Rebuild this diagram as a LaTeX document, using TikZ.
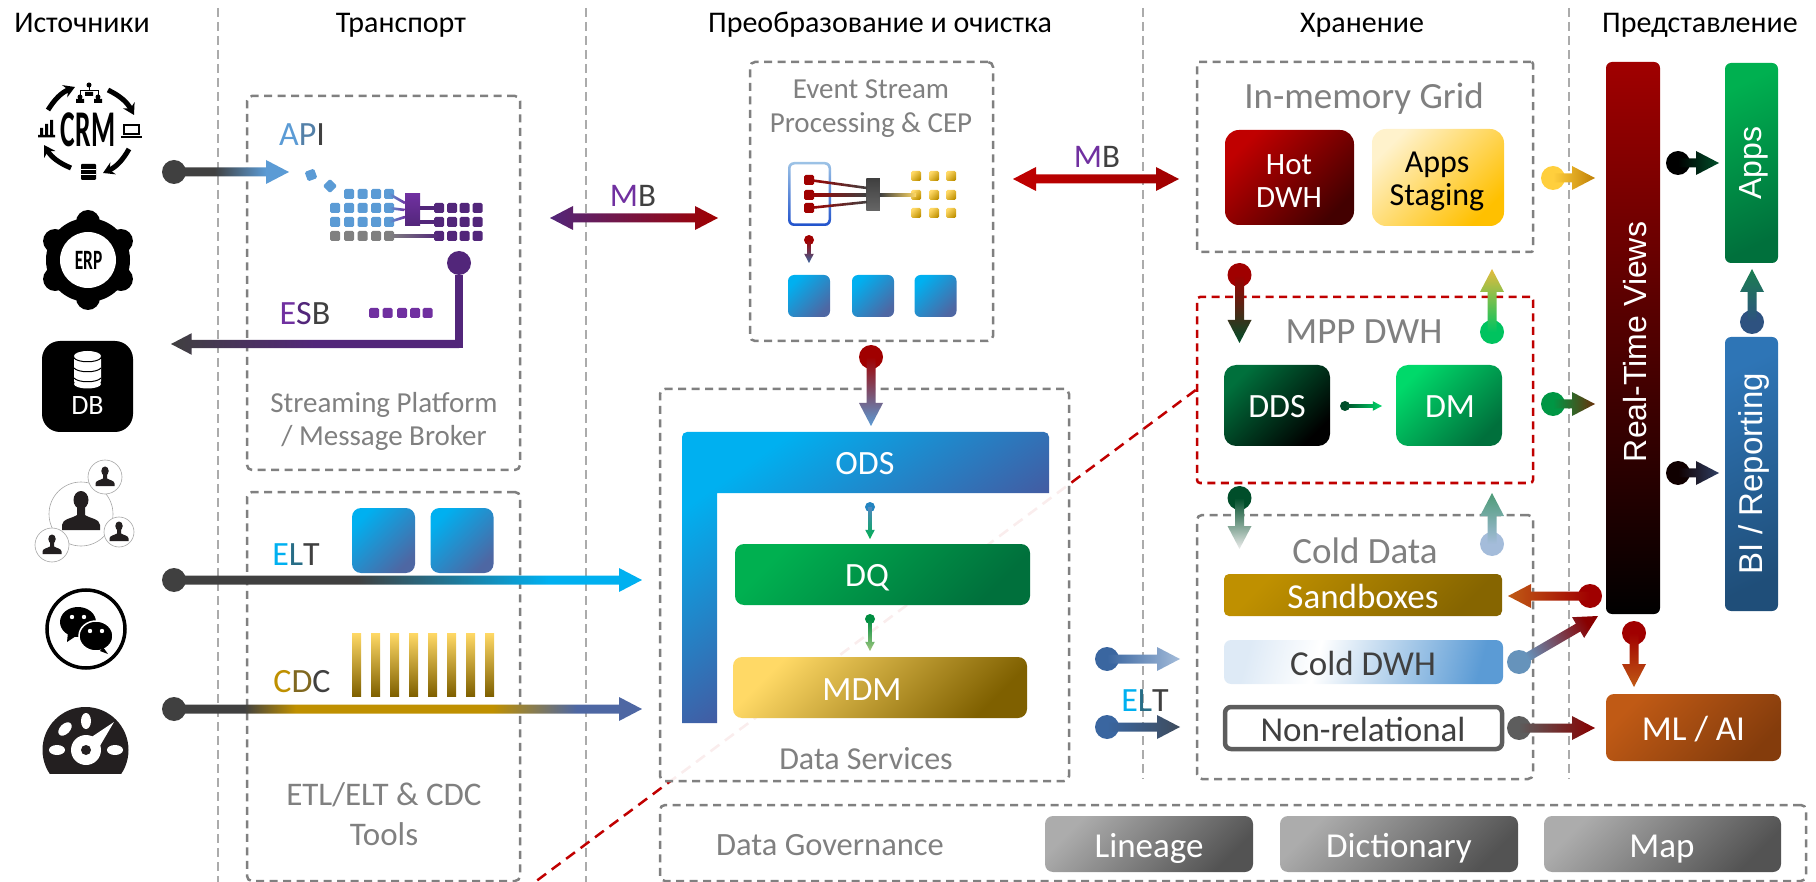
\documentclass[tikz,border=0pt]{standalone}
\usepackage{fontspec}
\usepackage{xcolor}
\usetikzlibrary{arrows.meta,calc}
\setmainfont{Carlito}
\newfontfamily\fontRot{Liberation Sans}
\definecolor{GrisF}{HTML}{404040}
\definecolor{GrisT}{HTML}{808080}
\definecolor{GrisS}{HTML}{ABABAB}
\definecolor{GrisI}{HTML}{231F20}
\definecolor{Violet}{HTML}{52267A}
\definecolor{VioletC}{HTML}{7030A0}
\definecolor{OdsFin}{HTML}{6E2570}
\definecolor{Rouge}{HTML}{A00000}
\definecolor{RougeV}{HTML}{C00000}
\definecolor{Ciel}{HTML}{00B0F0}
\definecolor{BleuN}{HTML}{4E67A3}
\definecolor{BleuC}{HTML}{5B9BD5}
\definecolor{BleuM}{HTML}{3A66A0}
\definecolor{BleuP}{HTML}{A4BCDA}
\definecolor{BleuI}{HTML}{2E75B6}
\definecolor{BleuJ}{HTML}{1F4E79}
\definecolor{BleuL}{HTML}{DEEAF6}
\definecolor{Or}{HTML}{BF9000}
\definecolor{OrC}{HTML}{FFD966}
\definecolor{OrF}{HTML}{7F6000}
\definecolor{OrJ}{HTML}{FFC000}
\definecolor{Creme}{HTML}{FFF2CC}
\definecolor{VertC}{HTML}{00B050}
\definecolor{VertF}{HTML}{00703C}
\definecolor{VertD}{HTML}{00D96A}
\definecolor{Brun}{HTML}{C05A15}
\definecolor{BrunF}{HTML}{843C0C}
\pgfdeclarehorizontalshading{ApiDegrade}{100bp}{color(0bp)=(GrisF); color(42.5bp)=(GrisF); color(65bp)=(BleuC); color(100bp)=(BleuC)}
\pgfdeclarehorizontalshading{EltDegrade}{100bp}{color(0bp)=(GrisF); color(44.5bp)=(GrisF); color(65bp)=(Ciel); color(100bp)=(Ciel)}
\pgfdeclarehorizontalshading{CdcDegrade}{100bp}{color(0bp)=(GrisF); color(32.5bp)=(GrisF); color(38bp)=(Or); color(59bp)=(Or); color(68bp)=(BleuN); color(100bp)=(BleuN)}
\pgfdeclarehorizontalshading{ColdDegrade}{100bp}{color(0bp)=(BleuL); color(25bp)=(BleuL); color(40bp)=(white); color(75bp)=(BleuC); color(100bp)=(BleuC)}
\newcommand{\GradFleche}[6][]{%
 \shade[left color=#4,right color=#5,shading angle=#6,Taille=1,#1]
 ($(#2)!\FlTaille*4.5pt!90:(#3)$) --
 ($(#3)!\FlTaille*23pt!(#2)!\FlTaille*4.5pt!90:(#3)$) --
 ($(#3)!\FlTaille*23pt!(#2)!\FlTaille*12pt!90:(#3)$) -- (#3) --
 ($(#3)!\FlTaille*23pt!(#2)!\FlTaille*12pt!-90:(#3)$) --
 ($(#3)!\FlTaille*23pt!(#2)!\FlTaille*4.5pt!-90:(#3)$) --
 ($(#2)!\FlTaille*4.5pt!-90:(#3)$) -- cycle;}
\newcommand{\GradDoubleFleche}[4]{%
 \shade[left color=#3,right color=#4]
 (#1) -- ($(#1)!23pt!(#2)!12pt!90:(#2)$) -- ($(#1)!23pt!(#2)!4.5pt!90:(#2)$) --
 ($(#2)!23pt!(#1)!4.5pt!-90:(#1)$) -- ($(#2)!23pt!(#1)!12pt!-90:(#1)$) -- (#2) --
 ($(#2)!23pt!(#1)!12pt!90:(#1)$) -- ($(#2)!23pt!(#1)!4.5pt!90:(#1)$) --
 ($(#1)!23pt!(#2)!4.5pt!-90:(#2)$) -- ($(#1)!23pt!(#2)!12pt!-90:(#2)$) -- cycle;}
\newcommand{\GradTrait}[4]{%
 \shade[left color=#3,right color=#4]
 ($(#1)!1.3pt!90:(#2)$) -- ($(#2)!1.3pt!-90:(#1)$) -- ($(#2)!1.3pt!90:(#1)$) -- ($(#1)!1.3pt!-90:(#2)$) -- cycle;}
\tikzset{
Taille/.store in=\FlTaille,
Taille=1,
Separe/.style={
 draw=GrisS,
 line width=2pt,
 dash pattern=on 9pt off 5pt
 },
BoiteTiret/.style={
 rectangle,
 draw=GrisT,
 line width=2.5pt,
 dash pattern=on 8pt off 5.5pt,
 rounded corners=5pt,
 inner sep=0pt
 },
TiretRouge/.style={
 draw=RougeV,
 line width=2.5pt,
 dash pattern=on 11pt off 7pt
 },
Lab/.style={
 inner sep=0pt,
 font=\fontsize{#1}{#1}\selectfont,
 text height=#1*0.64pt,
 text depth=0pt
 },
LabM/.style={
 inner sep=0pt,
 align=center,
 font=\fontsize{#1}{33}\selectfont
 },
Gris/.style={Lab=#1,text=GrisT},
Rot/.style={
 inner sep=0pt,
 rotate=90,
 text=white,
 font=\fontRot\fontsize{#1}{#1}\selectfont
 },
Boite/.style={
 rectangle,
 inner sep=0pt,
 rounded corners=#1
 },
Degrade/.style 2 args={
 left color=#1,
 right color=#2,
 shading angle=45
 },
Carre/.style={
 rectangle,
 inner sep=0pt,
 minimum size=10pt,
 rounded corners=1.5pt,
 fill=#1
 },
Bout/.style={
 circle,
 inner sep=0pt,
 minimum size=24pt,
 fill=#1
 },
BoutP/.style={
 circle,
 inner sep=0pt,
 minimum size=10pt,
 fill=#1
 },
Personne/.pic={
 \fill[GrisI] (0,-12) ellipse [x radius=7.5,y radius=9];
 \fill[GrisI] (-4,-6) -- (-4,3) .. controls (-8,6) and (-19,7) .. (-19,13) -- (-19,18) -- (19,18) -- (19,13) .. controls (19,7) and (8,6) .. (4,3) -- (4,-6) -- cycle;
 }
}
\begin{document}
\begin{tikzpicture}[x=1pt,y=-1pt]
\useasboundingbox (0,0) rectangle (1816,882);
\foreach \x/\yb in {218/882,586/882,1143/779,1569/779}
 \draw[Separe] (\x,8) -- (\x,\yb);

\node[Lab=30] (tSource) at (82,23) {Источники};
\node[Lab=30] (tTransport) at (401,23) {Транспорт};
\node[Lab=30] (tTransfo) at (880,23) {Преобразование и очистка};
\node[Lab=30] (tStock) at (1362,23) {Хранение};
\node[Lab=30] (tVue) at (1700,23) {Представление};

\node[BoiteTiret,minimum width=273pt,minimum height=374pt] (stream) at (383.5,283) {};
\node[BoiteTiret,minimum width=273pt,minimum height=389pt] (etl) at (383.5,686.5) {};
\node[BoiteTiret,minimum width=243pt,minimum height=279pt] (esp) at (871.5,201.5) {};
\node[BoiteTiret,minimum width=336pt,minimum height=190pt,rounded corners=2pt] (mem) at (1365,157) {};
\node[BoiteTiret,draw=RougeV,minimum width=336pt,minimum height=186pt,rounded corners=3pt] (mpp) at (1365,390) {};
\node[BoiteTiret,minimum width=336pt,minimum height=264pt] (cold) at (1365,647) {};
\coordinate (rougeB) at (535,882);
\draw[TiretRouge] (mpp.west) -- (rougeB);
\node[BoiteTiret,fill=white,fill opacity=.93,minimum width=409pt,minimum height=392pt] (ds) at (864.5,585) {};
\node[BoiteTiret,minimum width=1146pt,minimum height=76pt] (gov) at (1233,843) {};

\begin{scope}[line width=5pt,black]
\draw[-{Stealth[length=11pt,width=13pt]}] (48,110) to[bend left=18] (75,87);
\draw[-{Stealth[length=11pt,width=13pt]}] (108,90) to[bend left=18] (134,115);
\draw[-{Stealth[length=11pt,width=13pt]}] (129,149) to[bend left=18] (103,173);
\draw[-{Stealth[length=11pt,width=13pt]}] (71,168) to[bend left=18] (44,145);
\end{scope}
\node[inner sep=0pt,xscale=.6,yscale=1.12,transform shape,font=\fontsize{46}{46}\selectfont\bfseries,text height=30pt,text depth=0pt] (crm) at (88,130) {CRM};
\fill[black] (38,135) rectangle (55,137.5) (40,128) rectangle (43,135) (45,124) rectangle (48,135) (50,120) rectangle (53,135);
\draw[black,line width=1.5pt] (124,125) rectangle (139,134);
\fill[black] (121,136) rectangle (142,138.5);
\fill[black,rounded corners=1pt] (81,164) rectangle (96,180);
\draw[white,line width=1pt] (81,169.5) -- (96,169.5) (81,175) -- (96,175);
\fill[black] (89,85) circle (2.5pt) (80,97) circle (2.5pt) (98,97) circle (2.5pt);
\draw[black,line width=1pt] (89,85) -- (89,91) (80,97) -- (80,91) -- (98,91) -- (98,97);
\fill[black] (76,99) rectangle (84,103) (85,92) rectangle (93,96) (94,99) rectangle (102,103);

\fill[black] (88,260) circle (42pt);
\foreach \a in {90,30,-30,-90,-150,150}
 \fill[black] ($(88,260)+(\a:38)$) circle (12pt);
\fill[white] (88,260) circle (28pt);
\node[inner sep=0pt,xscale=.62,transform shape,font=\fontsize{28}{28}\selectfont\bfseries,text height=18pt,text depth=0pt] (erp) at (88.5,261) {ERP};

\node[Boite=18pt,fill=black,minimum width=91pt,minimum height=91pt] (db) at (87.5,386.5) {};
\fill[white,rounded corners=3pt] (74,356) rectangle (101,384);
\fill[white] (87.5,356) ellipse [x radius=13.5,y radius=5] (87.5,384) ellipse [x radius=13.5,y radius=4.5];
\foreach \y in {358,368,378}
 \draw[black,line width=1pt] (74,\y) .. controls (78,\y+5) and (97,\y+5) .. (101,\y);
\node[Lab=28,text=white] (dbT) at (87.5,406) {DB};

\draw[gray!70,line width=.6pt] (81,514) circle (32pt);
\pic at (81,512) {Personne};
\foreach \x/\y/\r in {105/477/17,119/532/15,52/545/17}{
 \filldraw[fill=white,draw=gray!70,line width=.6pt] (\x,\y) circle (\r pt);
 \pic[scale=.5] at (\x,\y) {Personne};
}

\draw[black,line width=3.5pt] (86,629) circle (39pt);
\fill[black] (78,622) ellipse [x radius=18,y radius=15];
\fill[black] (68,632) -- (67,642) -- (76,636) -- cycle;
\filldraw[fill=black,draw=white,line width=1.5pt] (96,636) ellipse [x radius=17,y radius=15];
\fill[white] (72,617) circle (2.2pt) (84,617) circle (2.2pt) (90,631) circle (2.2pt) (102,631) circle (2.2pt);
\fill[black] (103,647) -- (108,654) -- (100,651) -- cycle;

\begin{scope}
\clip (40,700) rectangle (130,773);
\fill[GrisI] (85.5,750) circle (43pt);
\end{scope}
\fill[white] (57,750) ellipse [x radius=8,y radius=5] (86,721) ellipse [x radius=5,y radius=8];
\fill[white] (115,750) ellipse [x radius=8,y radius=5];
\fill[white,rotate around={45:(65,729)}] (65,729) ellipse [x radius=8,y radius=5];
\fill[white] (86,750) circle (15pt);
\fill[white] (81,744) -- (114,722) -- (94,756) -- cycle;
\fill[GrisI] (86,750) circle (5pt);

\node[Lab=34] (apiT) at (302,135) {\textcolor{BleuC}{A}\textcolor{BleuC!70!GrisF}{P}\textcolor{GrisF}{I}};
\node[Bout=GrisF] (apiS) at (174,172) {};
\coordinate (apiE) at (289,172);
\GradFleche[shading=ApiDegrade,shading angle=0]{apiS}{apiE}{GrisF}{BleuC}{90}
\node[Carre=BleuC,rotate=20] (apiA) at (311,175) {};
\node[Carre=BleuC,rotate=45] (apiB) at (330,186) {};
\foreach \c/\x in {2/349,3/362.5,4/376,5/389}
 \node[Carre=BleuC] (bl1\c) at (\x,194) {};
\foreach \r/\y in {2/208,3/222}
 \foreach \c/\x in {1/335,2/349,3/362.5,4/376,5/389}
  \node[Carre=BleuC] (bl\r\c) at (\x,\y) {};
\foreach \c/\x in {1/335,2/349,3/362.5,4/376,5/389}
 \node[Carre=GrisT] (bl4\c) at (\x,236) {};
\foreach \r/\y in {2/208,3/222,4/236}
 \foreach \c/\x in {1/439,2/452,3/464.5,4/477.5}
  \node[Carre=Violet] (vi\r\c) at (\x,\y) {};
\node[Boite=0pt,minimum width=15pt,minimum height=32pt,left color=VioletC,right color=Violet,shading angle=0] (pBox) at (412.5,210) {};
\coordinate (pIn) at (405,203);
\coordinate (pInB) at (405,217);
\GradTrait{bl15}{pIn}{BleuC}{VioletC}
\GradTrait{bl25}{pBox.west}{BleuC}{VioletC}
\GradTrait{bl35}{pInB}{BleuC}{VioletC}
\coordinate (pOut) at (420,208);
\coordinate (pOutB) at (420,222);
\GradTrait{pOut}{vi21}{Violet}{Violet}
\GradTrait{pOutB}{vi31}{Violet}{Violet}
\GradTrait{bl45}{vi41}{GrisT}{Violet}

\node[Lab=34] (esbT) at (305,314) {\textcolor{VioletC}{E}\textcolor{Violet}{S}\textcolor{GrisF}{B}};
\foreach \c/\x in {1/374,2/387.5,3/402,4/415,5/427.5}
 \node[Carre=VioletC] (es\c) at (\x,313) {};
\node[Bout=Violet] (esbS) at (459,263) {};
\coordinate (esbC) at (459,344);
\coordinate (esbE) at (171,344);
\draw[Violet,line width=8pt,line join=miter] (esbS) -- ($(esbC)+(0,4)$);
\GradFleche[Taille=.9,middle color=Violet]{esbC}{esbE}{Violet}{GrisF}{-90}
\node[Gris=29] (stT) at (384,403) {Streaming Platform};
\node[Gris=29] (stU) at (384,436) {/ Message Broker};

\node[Lab=34] (eltT) at (296,555) {\textcolor{Ciel}{E}\textcolor{Ciel!40!GrisF}{L}\textcolor{GrisF}{T}};
\node[Boite=9pt,Degrade={Ciel}{BleuN},minimum width=63pt,minimum height=65pt] (eltA) at (383.5,540.5) {};
\node[Boite=9pt,Degrade={Ciel}{BleuN},minimum width=63pt,minimum height=65pt] (eltB) at (462,540.5) {};
\node[Bout=GrisF] (eltS) at (174,580) {};
\coordinate (eltE) at (642,580);
\GradFleche[shading=EltDegrade,shading angle=0]{eltS}{eltE}{GrisF}{Ciel}{90}

\node[Lab=34] (cdcT) at (302,682) {\textcolor{Or}{C}\textcolor{Or!50!GrisF}{D}\textcolor{GrisF}{C}};
\foreach \i/\x in {1/356.5,2/375.5,3/394.5,4/413.5,5/432.5,6/451.5,7/470.5,8/489.5}
 \node[Boite=0pt,minimum width=9pt,minimum height=63pt,left color=OrC,right color=OrF,shading angle=0] (cdc\i) at (\x,664.5) {};
\node[Bout=GrisF] (cdcS) at (174,709) {};
\coordinate (cdcE) at (642,709);
\GradFleche[shading=CdcDegrade,shading angle=0]{cdcS}{cdcE}{GrisF}{BleuN}{90}
\node[Gris=33] (etT) at (384,795) {ETL/ELT \& CDC};
\node[Gris=33] (etU) at (384,835) {Tools};

\coordinate (mbA) at (550,218);
\coordinate (mbB) at (718,218);
\GradDoubleFleche{mbA}{mbB}{Violet}{Rouge}
\node[Lab=33] (mbT) at (633,196) {\textcolor{VioletC}{M}\textcolor{GrisF}{B}};
\coordinate (mbC) at (1013,179);
\coordinate (mbD) at (1179,179);
\GradDoubleFleche{mbC}{mbD}{RougeV}{Rouge}
\node[Lab=33] (mbU) at (1097,157) {\textcolor{VioletC}{M}\textcolor{GrisF}{B}};

\node[Gris=29] (evT) at (871,89) {Event Stream};
\node[Gris=29] (evU) at (871,123) {Processing \& CEP};
\node[Boite=6pt,left color=BleuC!60!white,right color=BleuI!70!blue,shading angle=0,minimum width=43pt,minimum height=64pt] (evO) at (809.5,194) {};
\node[Boite=4pt,fill=white,minimum width=38pt,minimum height=59pt] (evI) at (809.5,194) {};
\node[Boite=0pt,left color=GrisF,right color=GrisF!80!white,shading angle=0,minimum width=13.5pt,minimum height=32pt] (evM) at (873,195) {};
\coordinate (evMa) at (867,188);
\coordinate (evMb) at (867,202);
\foreach \c/\x in {1/916,2/934,3/951}
 \foreach \r/\y in {1/176,2/195,3/213}
  \node[Boite=1.5pt,Degrade={OrC}{Or},minimum size=10pt] (jn\r\c) at (\x,\y) {};
\foreach \r/\y in {1/180,2/195,3/208}
 \node[Carre=Rouge] (ro\r) at (809,\y) {};
\GradTrait{ro1}{evMa}{Rouge}{GrisF}
\GradTrait{ro2}{evM.west}{Rouge}{GrisF}
\GradTrait{ro3}{evMb}{Rouge}{GrisF}
\GradTrait{evM.east}{jn21}{GrisF}{OrC}
\node[BoutP=Rouge] (evS) at (809,240) {};
\coordinate (evE) at (809,263);
\GradFleche[Taille=.4]{evS}{evE}{Rouge}{BleuM}{0}
\node[Boite=6pt,Degrade={Ciel}{BleuN},minimum width=42pt,minimum height=42pt] (evA) at (809,296) {};
\node[Boite=6pt,Degrade={Ciel}{BleuN},minimum width=42pt,minimum height=42pt] (evB) at (873,296) {};
\node[Boite=6pt,Degrade={Ciel}{BleuN},minimum width=42pt,minimum height=42pt] (evC) at (935.5,296) {};

\node[Bout=Rouge] (espS) at (871,357) {};
\coordinate (espE) at (871,426);
\GradFleche{espS}{espE}{Rouge}{BleuC}{0}

\shade[left color=Ciel,middle color=Ciel!80!BleuN,right color=OdsFin,shading angle=35,rounded corners=5pt] (682,723) -- (682,432) -- (1049,432) [sharp corners] -- (1049,493) -- (717,493) -- (717,723) -- cycle;
\node[Lab=34,text=white] (odsT) at (865,464) {ODS};
\node[Boite=9pt,Degrade={VertC}{VertF},minimum width=295pt,minimum height=61pt] (dq) at (882.5,574.5) {};
\node[Lab=34,text=white] (dqT) at (867,576) {DQ};
\node[Boite=9pt,Degrade={OrC}{OrF},minimum width=294pt,minimum height=61pt] (mdm) at (880,687.5) {};
\node[Lab=34,text=white] (mdmT) at (862,690) {MDM};
\node[BoutP=BleuM!60!Ciel] (odsS) at (870,507) {};
\coordinate (odsE) at (870,539);
\GradFleche[Taille=.4]{odsS}{odsE}{BleuC!60!BleuM}{VertC}{0}
\node[BoutP=VertC!80!black] (dqS) at (870,619) {};
\coordinate (dqE) at (870,651);
\GradFleche[Taille=.4]{dqS}{dqE}{VertC!80!black}{Or!50!VertC!60!white}{0}
\node[Gris=32] (dsT) at (866,759) {Data Services};

\node[Bout=BleuM] (inA) at (1107,659) {};
\coordinate (inAe) at (1180,659);
\GradFleche{inA}{inAe}{BleuM}{BleuP}{90}
\node[Bout=BleuM] (inB) at (1107,727) {};
\coordinate (inBe) at (1180,727);
\GradFleche{inB}{inBe}{BleuM}{GrisF!70!BleuM}{90}
\node[Lab=34] (eltU) at (1145,701) {\textcolor{Ciel}{E}\textcolor{Ciel!40!GrisF}{L}\textcolor{GrisF}{T}};

\node[Gris=37] (memT) at (1364,97) {In-memory Grid};
\node[Boite=14pt,left color=RougeV,middle color=RougeV!92!black,right color=RougeV!35!black,shading angle=45,minimum width=129pt,minimum height=95pt] (hot) at (1289.5,177.5) {};
\node[LabM=31,text=white] (hotT) at (1289,181) {Hot\\DWH};
\node[Boite=14pt,left color=Creme,middle color=OrJ!55!Creme,right color=OrJ,shading angle=45,minimum width=132pt,minimum height=97pt] (stag) at (1438,177.5) {};
\node[LabM=32] (stagT) at (1437,181) {Apps\\Staging};

\node[Gris=37] (mppT) at (1364,332) {MPP DWH};
\node[Boite=12pt,Degrade={VertF}{black},minimum width=106pt,minimum height=81pt] (dds) at (1277,405.5) {};
\node[Lab=34,text=white] (ddsT) at (1277,407) {DDS};
\node[Boite=12pt,Degrade={VertD}{VertF},minimum width=106pt,minimum height=81pt] (dm) at (1449,405.5) {};
\node[Lab=34,text=white] (dmT) at (1450,407) {DM};
\node[BoutP=VertF!70!black] (ddS) at (1345,406) {};
\coordinate (ddE) at (1382,406);
\GradFleche[Taille=.4]{ddS}{ddE}{VertF!70!black}{VertD}{90}

\node[Bout=Rouge] (hotS) at (1239.5,275) {};
\coordinate (hotE) at (1239.5,343);
\GradFleche{hotS}{hotE}{Rouge}{VertF!70!black}{0}
\node[Bout=VertD!90!black] (dmS) at (1492,332) {};
\coordinate (dmE) at (1492,269);
\GradFleche{dmS}{dmE}{VertD!90!black}{OrC!60!Or}{180}
\node[Bout=VertF!70!black] (mppS) at (1239.5,498) {};
\coordinate (mppE) at (1239.5,549);
\GradFleche{mppS}{mppE}{VertF!70!black}{gray!15}{0}
\node[Bout=BleuP] (colS) at (1492,544) {};
\coordinate (colE) at (1492,493);
\GradFleche{colS}{colE}{BleuP}{VertF!70!white}{180}

\node[Gris=37] (colT) at (1365,552) {Cold Data};
\node[Boite=5pt,Degrade={Or}{Or!70!black},minimum width=278pt,minimum height=42pt] (sand) at (1363,595) {};
\node[Lab=35,text=white] (sandT) at (1363,597) {Sandboxes};
\node[Boite=7pt,shading=ColdDegrade,shading angle=-15,minimum width=279pt,minimum height=44pt] (coldw) at (1363.5,662) {};
\node[Lab=35,text=GrisF] (coldT) at (1363,664) {Cold DWH};
\node[Boite=6pt,draw=GrisF!85!white,fill=white,line width=4.5pt,minimum width=277pt,minimum height=42pt] (nrel) at (1363.5,728) {};
\node[Lab=35,text=GrisF] (nrelT) at (1363,730) {Non-relational};

\node[Boite=6pt,left color=Rouge,right color=black,shading angle=0,minimum width=54pt,minimum height=552pt] (rt) at (1633,338) {};
\node[Rot=32] (rtT) at (1635,342) {Real-Time Views};
\node[Boite=6pt,left color=VertC,right color=VertF,shading angle=25,minimum width=53pt,minimum height=200pt] (apps) at (1751.5,163) {};
\node[Rot=32] (appsT) at (1754,163) {Apps};
\node[Boite=6pt,left color=BleuI,right color=BleuJ,shading angle=25,minimum width=53pt,minimum height=274pt] (bi) at (1751.5,474) {};
\node[Rot=33] (biT) at (1754,474) {BI / Reporting};
\node[Boite=8pt,Degrade={Brun}{BrunF},minimum width=175pt,minimum height=67pt] (ml) at (1693.5,727.5) {};
\node[Lab=35,text=white] (mlT) at (1693.5,729) {ML / AI};

\node[Bout=OrC!60!OrJ] (stS) at (1553,178) {};
\coordinate (stE) at (1595,178);
\GradFleche{stS}{stE}{OrC!60!OrJ}{Or!70!Brun}{90}
\node[Bout=VertC!85!black] (gdS) at (1553,404) {};
\coordinate (gdE) at (1595,404);
\GradFleche{gdS}{gdE}{VertC!85!black}{BrunF!80!black}{90}
\node[Bout=black] (apS) at (1678,163) {};
\coordinate (apE) at (1719,163);
\GradFleche{apS}{apE}{black}{VertF!70!black}{90}
\node[Bout=black!90!Rouge] (biS) at (1678,473) {};
\coordinate (biE) at (1719,473);
\GradFleche{biS}{biE}{black!90!Rouge}{BleuN!60!black}{90}
\node[Bout=BleuM!80!black] (bapS) at (1752,322) {};
\coordinate (bapE) at (1752,269);
\GradFleche{bapS}{bapE}{BleuM!80!black}{VertF!90!white}{180}
\node[Bout=Rouge] (sbS) at (1590,596) {};
\coordinate (sbE) at (1508,596);
\GradFleche{sbS}{sbE}{Rouge}{Brun}{-90}
\node[Bout=BleuC!70!gray] (cdS) at (1519,662) {};
\coordinate (cdE) at (1598,616);
\GradFleche{cdS}{cdE}{BleuC!70!gray}{Rouge!85!black}{120}
\node[Bout=GrisF!85!white] (nrS) at (1519,728) {};
\coordinate (nrE) at (1595,728);
\GradFleche{nrS}{nrE}{GrisF!85!white}{Rouge!85!black}{90}
\node[Bout=Rouge] (mlS) at (1634,633) {};
\coordinate (mlE) at (1634,687);
\GradFleche{mlS}{mlE}{Rouge}{Brun}{0}

\node[Gris=32.5] (govT) at (830,845) {Data Governance};
\node[Boite=8pt,Degrade={gray!65}{GrisF!90!white},minimum width=208pt,minimum height=56pt] (lin) at (1149,844) {};
\node[Lab=35,text=white] (linT) at (1149,846) {Lineage};
\node[Boite=8pt,Degrade={gray!65}{GrisF!90!white},minimum width=238pt,minimum height=56pt] (dict) at (1399,844) {};
\node[Lab=35,text=white] (dictT) at (1399,846) {Dictionary};
\node[Boite=8pt,Degrade={gray!65}{GrisF!90!white},minimum width=237pt,minimum height=56pt] (mapn) at (1662.5,844) {};
\node[Lab=35,text=white] (mapT) at (1662,846) {Map};
\end{tikzpicture}
\end{document}
